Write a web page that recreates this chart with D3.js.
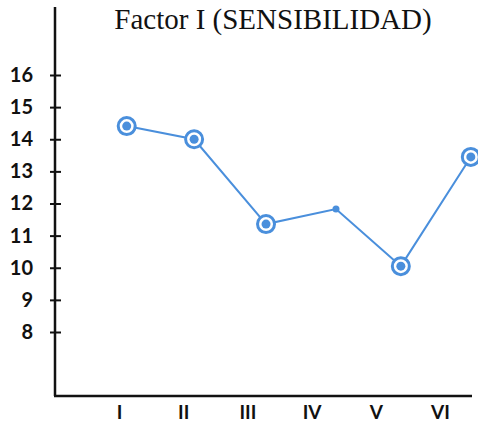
<!DOCTYPE html>
<html>
<head>
<meta charset="utf-8">
<script src="https://cdn.jsdelivr.net/npm/d3@7"></script>
<style>
  html, body { margin: 0; padding: 0; background: #fff; }
  svg { display: block; }
</style>
</head>
<body>
<div id="chart"></div>
<script>
// ---- data ----
const categories = ["I", "II", "III", "IV", "V", "VI"];
const xPositions = [1.12, 2.17, 3.29, 4.38, 5.39, 6.48]; // point positions in category units
const values = [14.41, 14.0, 11.36, 11.83, 10.05, 13.45];
const circled = [true, true, true, false, true, true];
const yTicks = [8, 9, 10, 11, 12, 13, 14, 15, 16];
const title = "Factor I (SENSIBILIDAD)";

// ---- layout ----
const W = 478, H = 431;
const axisX = 55, axisTop = 7, axisBottom = 396, axisRight = 472;
const color = "#4a8fdc";

const svg = d3.select("#chart").append("svg").attr("width", W).attr("height", H);

const y = d3.scaleLinear().domain([8, 16]).range([332, 75]);
const x = d3.scaleLinear().domain([1, 6]).range([119, 440]);

// title
svg.append("text")
  .attr("x", 273).attr("y", 29)
  .attr("text-anchor", "middle")
  .attr("font-family", "'Liberation Serif', 'Times New Roman', serif")
  .attr("font-size", 29)
  .attr("fill", "#111")
  .text(title);

// y axis line
svg.append("line")
  .attr("x1", axisX).attr("x2", axisX)
  .attr("y1", axisTop).attr("y2", axisBottom)
  .attr("stroke", "#111").attr("stroke-width", 2.5);
// x axis line
svg.append("line")
  .attr("x1", axisX - 1).attr("x2", axisRight)
  .attr("y1", axisBottom).attr("y2", axisBottom)
  .attr("stroke", "#111").attr("stroke-width", 2.5);

// y axis ticks (crossing) and labels via d3 axis
const yAxis = d3.axisLeft(y).tickValues(yTicks).tickSize(5).tickPadding(17).tickFormat(d3.format("d"));
const gy = svg.append("g").attr("transform", `translate(${axisX},0)`).call(yAxis);
gy.select(".domain").remove();
gy.selectAll(".tick line").attr("x2", 6).attr("x1", -5).attr("stroke", "#111").attr("stroke-width", 2);
gy.selectAll(".tick text")
  .attr("font-family", "Lato, 'DejaVu Sans', sans-serif")
  .attr("font-weight", "bold")
  .attr("font-size", 20)
  .attr("fill", "#111");

// x axis labels
const xAxis = d3.axisBottom(x).tickValues(d3.range(1, categories.length + 1))
  .tickSize(0).tickPadding(10).tickFormat((d) => categories[d - 1]);
const gx = svg.append("g").attr("transform", `translate(0,${axisBottom})`).call(xAxis);
gx.select(".domain").remove();
gx.selectAll(".tick text")
  .attr("font-family", "Lato, 'DejaVu Sans', sans-serif")
  .attr("font-weight", "bold")
  .attr("font-size", 19)
  .attr("fill", "#111");

// data
const pts = values.map((v, i) => ({ x: xPositions[i], v, c: circled[i] }));

svg.append("path")
  .datum(pts)
  .attr("fill", "none")
  .attr("stroke", color)
  .attr("stroke-width", 2)
  .attr("d", d3.line().x((d) => x(d.x)).y((d) => y(d.v)));

svg.selectAll("circle.ring")
  .data(pts.filter((d) => d.c))
  .join("circle")
  .attr("class", "ring")
  .attr("cx", (d) => x(d.x)).attr("cy", (d) => y(d.v))
  .attr("r", 8.5)
  .attr("fill", "#fff")
  .attr("stroke", color)
  .attr("stroke-width", 3);

svg.selectAll("circle.dot")
  .data(pts)
  .join("circle")
  .attr("class", "dot")
  .attr("cx", (d) => x(d.x)).attr("cy", (d) => y(d.v))
  .attr("r", (d) => (d.c ? 4.5 : 3.5))
  .attr("fill", color);
</script>
</body>
</html>
